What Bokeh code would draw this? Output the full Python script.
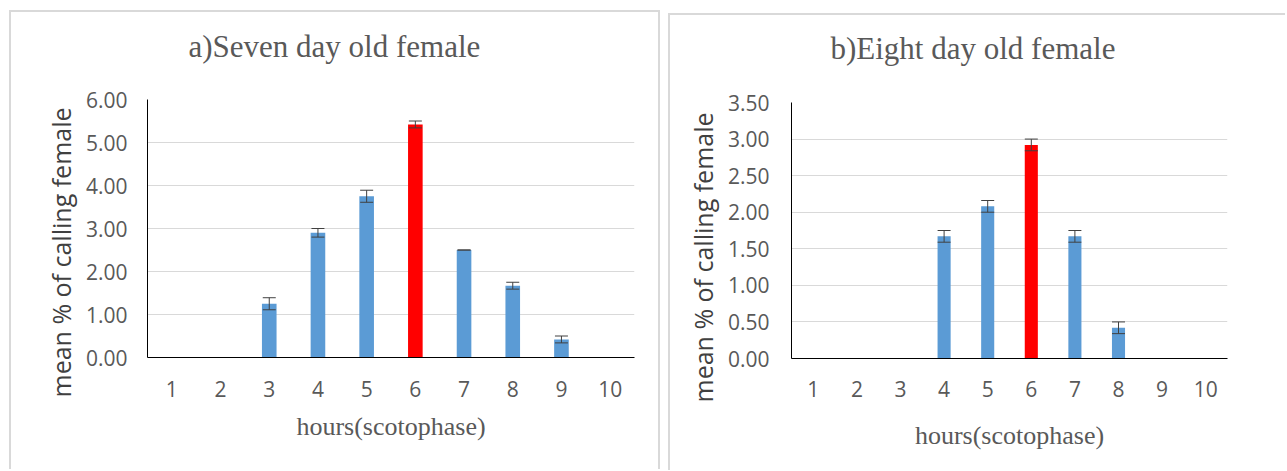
from bokeh.plotting import figure
from bokeh.models import (FactorRange, Range1d, FixedTicker, NumeralTickFormatter,
                          Whisker, ColumnDataSource, Title)
from bokeh.layouts import row
from bokeh.embed import file_html
from bokeh.resources import INLINE

# ---------------- data ----------------
hours = ["1", "2", "3", "4", "5", "6", "7", "8", "9", "10"]
peak_hour = "6"

a_title = "a)Seven day old female"
a_means = [0, 0, 1.25, 2.90, 3.75, 5.42, 2.50, 1.67, 0.42, 0]
a_errors = [0, 0, 0.14, 0.10, 0.14, 0.08, 0.00, 0.08, 0.08, 0]
a_yticks = [0, 1, 2, 3, 4, 5, 6]

b_title = "b)Eight day old female"
b_means = [0, 0, 0, 1.67, 2.08, 2.92, 1.67, 0.42, 0, 0]
b_errors = [0, 0, 0, 0.08, 0.08, 0.08, 0.08, 0.08, 0, 0]
b_yticks = [0, 0.5, 1.0, 1.5, 2.0, 2.5, 3.0, 3.5]

x_title = "hours(scotophase)"
y_title = "mean % of calling female"

BLUE = "#5B9BD5"
RED = "#FF0000"
SERIF = "Liberation Serif"
SANS = "Open Sans"


def spacer(gap):
    # an empty title used only to push the next title away from the frame
    return Title(text=" ", text_font_size="1px", standoff=gap, text_color="white")


def make_panel(title, means, errors, yticks, width, height, mb, margin, styles,
               t_off, t_gap, y_off, y_stand, x_gap, tick_standoff_y, tick_standoff_x):
    colors = [RED if h == peak_hour else BLUE for h in hours]
    src = ColumnDataSource(dict(hour=hours, mean=means, color=colors))
    wh = [h for h, m in zip(hours, means) if m > 0]
    wu = [m + e for m, e in zip(means, errors) if m > 0]
    wl = [m - e for m, e in zip(means, errors) if m > 0]
    wsrc = ColumnDataSource(dict(hour=wh, upper=wu, lower=wl))

    p = figure(x_range=FactorRange(*hours), y_range=Range1d(0, max(yticks)),
               width=width, height=height, output_backend="svg",
               toolbar_location=None, margin=margin, styles=styles)
    p.min_border_left, p.min_border_right, p.min_border_top, p.min_border_bottom = mb
    p.outline_line_color = None
    p.background_fill_color = "white"
    p.border_fill_color = "white"

    p.vbar(x="hour", top="mean", width=0.3, fill_color="color", line_color=None, source=src)
    w = Whisker(base="hour", upper="upper", lower="lower", source=wsrc,
                line_color="#404040", line_width=1, level="overlay")
    w.upper_head.size = 13
    w.lower_head.size = 13
    w.upper_head.line_color = "#404040"
    w.lower_head.line_color = "#404040"
    p.add_layout(w)

    p.xgrid.grid_line_color = None
    p.ygrid.grid_line_color = "#d9d9d9"
    p.ygrid.grid_line_width = 1

    p.yaxis.ticker = FixedTicker(ticks=yticks)
    p.yaxis.formatter = NumeralTickFormatter(format="0.00")
    for ax in (p.xaxis[0], p.yaxis[0]):
        ax.axis_line_color = "black"
        ax.axis_line_width = 1
        ax.major_tick_line_color = None
        ax.minor_tick_line_color = None
        ax.major_tick_out = 0
        ax.major_tick_in = 0
        ax.major_label_text_font = SANS
        ax.major_label_text_font_size = "21px"
        ax.major_label_text_color = "#595959"
    p.xaxis.major_label_standoff = tick_standoff_x
    p.yaxis.major_label_standoff = tick_standoff_y

    p.add_layout(spacer(t_gap), "above")
    p.add_layout(Title(text=title, align="left", offset=t_off, standoff=0,
                       text_font=SERIF, text_font_size="31px", text_font_style="normal",
                       text_color="#595959"), "above")
    p.add_layout(Title(text=y_title, align="left", offset=y_off, standoff=y_stand,
                       text_font=SANS, text_font_size="25px", text_font_style="normal",
                       text_color="#404040"), "left")
    p.add_layout(spacer(x_gap), "below")
    p.add_layout(Title(text=x_title, align="center", offset=0, standoff=0,
                       text_font=SERIF, text_font_size="26px", text_font_style="normal",
                       text_color="#595959"), "below")
    return p


border = "2px solid #d9d9d9"
pa = make_panel(a_title, a_means, a_errors, a_yticks, 651, 459, (136, 28, 85, 114),
                (10, 0, 0, 9),
                {"border-top": border, "border-left": border, "border-right": border},
                41, 33, -40, 10, 7, 20, 23)
pb = make_panel(b_title, b_means, b_errors, b_yticks, 617, 457, (121, 60, 87, 109),
                (13, 0, 0, 8),
                {"border-top": border, "border-left": border},
                39, 34, -44, 10, 16, 22, 22)

layout = row(pa, pb)
open("out.html", "w").write(file_html(layout, INLINE))
